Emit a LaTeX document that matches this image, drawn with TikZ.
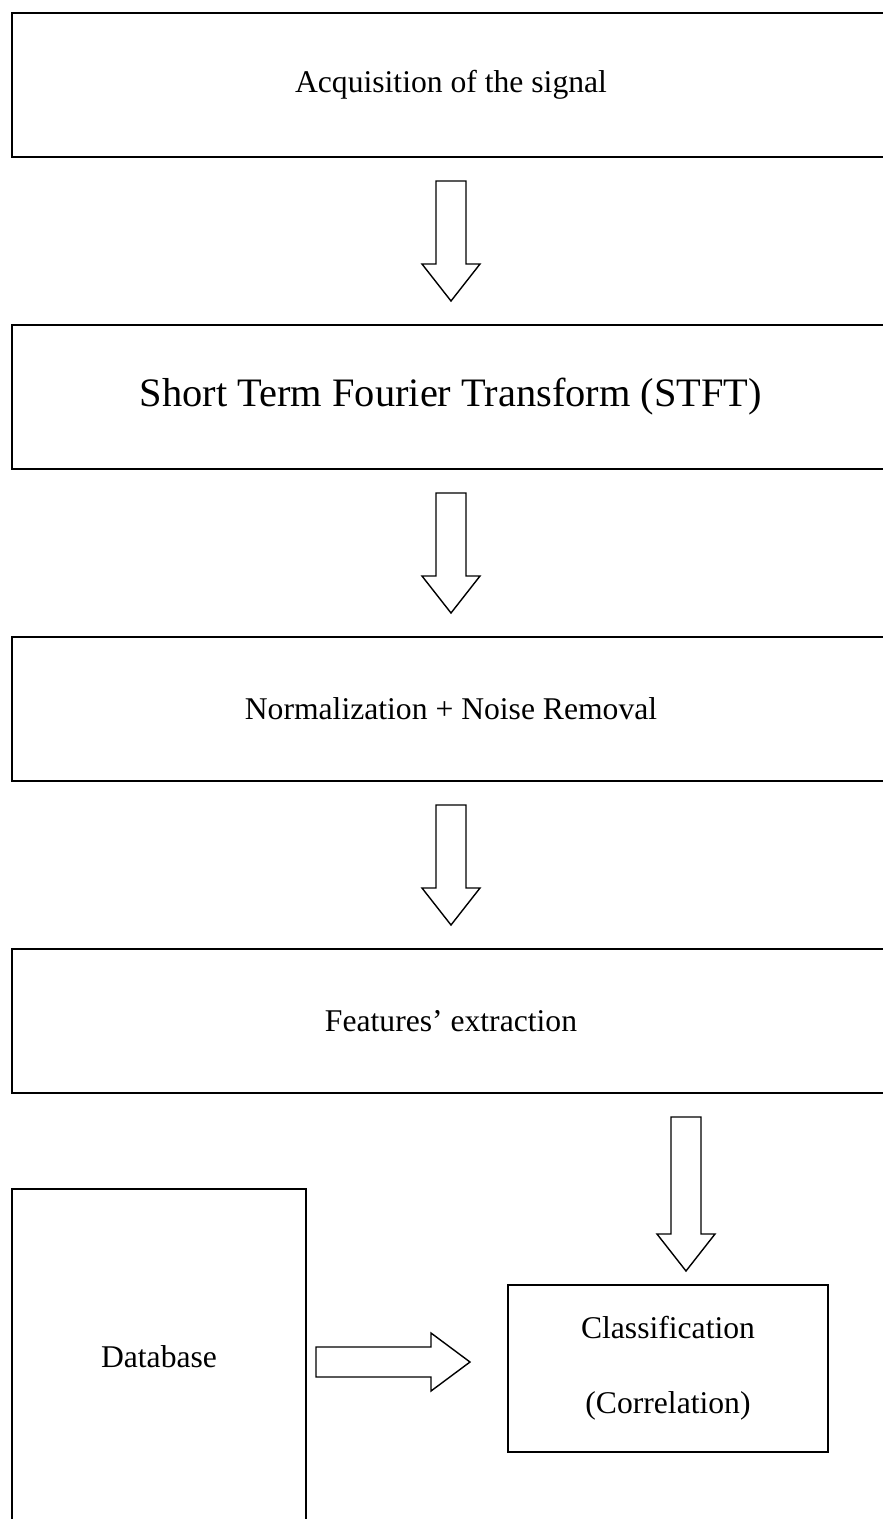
\documentclass[tikz,border=0pt]{standalone}
\usepackage{fontspec}
\setmainfont{Liberation Serif}
\usetikzlibrary{positioning, calc}

% hollow block arrows, drawn between two points
\newcommand{\blockdown}[2]{%
  \draw[blockarrow] let \p1=#1, \p2=#2 in
    (\x1-0.3cm,\y1) -- (\x1+0.3cm,\y1) -- (\x1+0.3cm,\y2+0.74cm) -- (\x1+0.58cm,\y2+0.74cm)
    -- (\x1,\y2) -- (\x1-0.58cm,\y2+0.74cm) -- (\x1-0.3cm,\y2+0.74cm) -- cycle;}
\newcommand{\blockright}[2]{%
  \draw[blockarrow] let \p1=#1, \p2=#2 in
    (\x1,\y1+0.3cm) -- (\x2-0.78cm,\y1+0.3cm) -- (\x2-0.78cm,\y1+0.58cm) -- (\x2,\y1)
    -- (\x2-0.78cm,\y1-0.58cm) -- (\x2-0.78cm,\y1-0.3cm) -- (\x1,\y1-0.3cm) -- cycle;}

\begin{document}
\begin{tikzpicture}[
    node distance=3.36cm,
    stage/.style={rectangle, draw=black, line width=1.6pt, minimum width=17.56cm, minimum height=2.88cm, text centered, inner sep=0pt, outer sep=0pt, font=\fontsize{18}{22}\selectfont},
    sidebox/.style={rectangle, draw=black, line width=1.4pt, text centered, inner sep=0pt, outer sep=0pt, font=\fontsize{18}{22}\selectfont},
    blockarrow/.style={draw=black, line width=0.8pt, fill=white, line join=miter}
]
\useasboundingbox (0,0) rectangle (17.66,-30.38);
\clip (0,0) rectangle (17.66,-30.38);

\node (acq) [stage] at (9.02,-1.70) {Acquisition of the signal};
\node (stft) [stage, below=of acq, font=\fontsize{23}{27}\selectfont] {Short Term Fourier Transform (STFT)};
\node (norm) [stage, below=of stft] {Normalization + Noise Removal};
\node (feat) [stage, below=of norm] {Features' extraction};

\node (db) [sidebox, minimum width=5.88cm, minimum height=6.72cm] at (3.18,-27.14) {Database};
\node (clsf) [sidebox, minimum width=6.4cm, minimum height=3.34cm, align=center, font=\fontsize{18}{42.5}\selectfont] at (13.36,-27.37) {Classification\\(Correlation)};

\blockdown{($(acq.south)+(0,-0.48)$)}{($(stft.north)+(0,0.48)$)}
\blockdown{($(stft.south)+(0,-0.48)$)}{($(norm.north)+(0,0.48)$)}
\blockdown{($(norm.south)+(0,-0.48)$)}{($(feat.north)+(0,0.48)$)}
\blockdown{($(feat.south)+(4.7,-0.48)$)}{($(clsf.north)+(0.36,0.28)$)}
\blockright{($(db.east)+(0.2,-0.1)$)}{($(clsf.west)+(-0.76,0)$)}

\end{tikzpicture}
\end{document}
